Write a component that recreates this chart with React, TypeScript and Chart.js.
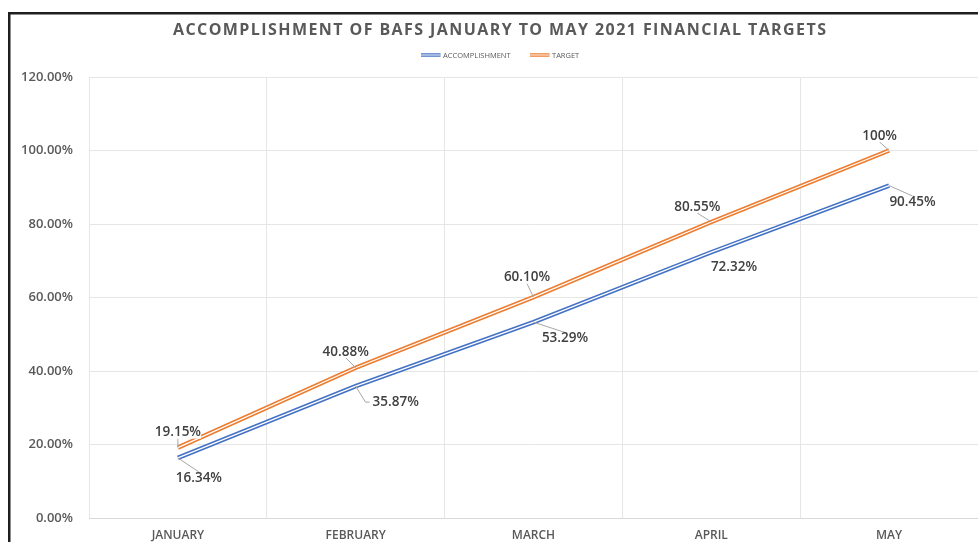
import React, { useEffect, useRef } from 'react';
import { Chart, registerables } from 'chart.js';

Chart.register(...registerables);

const categories = ['JANUARY', 'FEBRUARY', 'MARCH', 'APRIL', 'MAY'];
const accomplishment = [16.34, 35.87, 53.29, 72.32, 90.45];
const target = [19.15, 40.88, 60.1, 80.55, 100];
const accomplishmentLabels = ['16.34%', '35.87%', '53.29%', '72.32%', '90.45%'];
const targetLabels = ['19.15%', '40.88%', '60.10%', '80.55%', '100%'];
const yMin = 0;
const yMax = 120;
const yStep = 20;
const titleText = 'ACCOMPLISHMENT OF BAFS JANUARY TO MAY 2021 FINANCIAL TARGETS';
const legendNames = ['ACCOMPLISHMENT', 'TARGET'];

// label placement (label centre relative to its point, in px) and leader-line anchors
const targetLabelOffsets = [[0, -15], [-10, -16], [-6.5, -19.5], [-14, -15], [-9.5, -14.5]];
const accLabelOffsets = [[21, 20], [40, 16], [31.5, 16.3], [22.7, 15.3], [23.4, 16.4]];
const targetLeaders = ['bottom', 'bottom', 'bottom', 'bottom', 'bottom'];
const accLeaders = ['top', 'left', 'top', 'none', 'top'];

const BLUE = '#4472C4';
const ORANGE = '#ED7D31';
const TEXT = '#595959';
const LABEL = '#404040';
const FONT = "'Open Sans', 'DejaVu Sans', sans-serif";

const decorPlugin = {
  id: 'decor',
  beforeDraw(chart: any) {
    const ctx = chart.ctx;
    ctx.save();
    ctx.fillStyle = '#ffffff';
    ctx.fillRect(0, 0, chart.width, chart.height);
    ctx.fillStyle = '#1e1e1e';
    ctx.fillRect(8, 12, chart.width - 8, 2.5);
    ctx.fillRect(8, 12, 2.5, chart.height - 12);
    ctx.restore();
  },
  afterDraw(chart: any) {
    const ctx = chart.ctx;
    ctx.save();
    // title
    ctx.font = `bold 16px ${FONT}`;
    ctx.fillStyle = TEXT;
    ctx.textBaseline = 'middle';
    ctx.textAlign = 'left';
    (ctx as any).letterSpacing = '0px';
    const w0 = ctx.measureText(titleText).width;
    const targetW = 653;
    const sp = (targetW - w0) / (titleText.length - 1);
    (ctx as any).letterSpacing = `${sp}px`;
    ctx.fillText(titleText, 499.5 - targetW / 2, 30);
    (ctx as any).letterSpacing = '0px';

    // legend
    const items = [
      { name: legendNames[0], color: BLUE, x: 421 },
      { name: legendNames[1], color: ORANGE, x: 530 },
    ];
    ctx.font = `7.5px ${FONT}`;
    items.forEach((it) => {
      ctx.lineCap = 'butt';
      ctx.strokeStyle = it.color;
      ctx.lineWidth = 3.5;
      ctx.beginPath();
      ctx.moveTo(it.x, 55);
      ctx.lineTo(it.x + 19.5, 55);
      ctx.stroke();
      ctx.strokeStyle = '#ffffff';
      ctx.lineWidth = 1;
      ctx.beginPath();
      ctx.moveTo(it.x, 55);
      ctx.lineTo(it.x + 19.5, 55);
      ctx.stroke();
      ctx.fillStyle = TEXT;
      ctx.textBaseline = 'middle';
      ctx.fillText(it.name, it.x + 22, 55.5);
    });
    ctx.restore();
  },
  afterDatasetsDraw(chart: any) {
    const ctx = chart.ctx;
    ctx.save();
    ctx.font = `600 13.5px ${FONT}`;
    ctx.textAlign = 'center';
    ctx.textBaseline = 'middle';
    const groups = [
      { dsIndex: 1, labels: targetLabels, offsets: targetLabelOffsets, leaders: targetLeaders },
      { dsIndex: 0, labels: accomplishmentLabels, offsets: accLabelOffsets, leaders: accLeaders },
    ];
    groups.forEach((g) => {
      const meta = chart.getDatasetMeta(g.dsIndex);
      meta.data.forEach((pt: any, i: number) => {
        const [dx, dy] = g.offsets[i];
        const cx = pt.x + dx;
        const cy = pt.y + dy;
        const tw = ctx.measureText(g.labels[i]).width;
        const anchor = g.leaders[i];
        if (anchor !== 'none') {
          ctx.strokeStyle = '#a6a6a6';
          ctx.lineWidth = 1;
          ctx.beginPath();
          ctx.moveTo(pt.x, pt.y);
          if (anchor === 'bottom') {
            ctx.lineTo(cx, cy + 6);
          } else if (anchor === 'top') {
            ctx.lineTo(cx, cy - 6);
          } else {
            const lx = cx - tw / 2 - 3;
            ctx.lineTo(lx - 4, cy);
            ctx.lineTo(lx, cy);
          }
          ctx.stroke();
        }
        ctx.fillStyle = '#ffffff';
        ctx.fillRect(cx - tw / 2, cy - 6, tw, 12);
        ctx.fillStyle = LABEL;
        ctx.fillText(g.labels[i], cx, cy);
      });
    });
    ctx.restore();
  },
};

export default function App() {
  const ref = useRef<HTMLCanvasElement>(null);
  useEffect(() => {
    if (!ref.current) return;
    const chart = new Chart(ref.current, {
      type: 'line',
      data: {
        labels: categories,
        datasets: [
          { label: legendNames[0], data: accomplishment, borderColor: BLUE, borderWidth: 4.5, pointRadius: 0, tension: 0, order: 2 },
          { label: legendNames[1], data: target, borderColor: ORANGE, borderWidth: 4.5, pointRadius: 0, tension: 0, order: 2 },
          { label: 'inner-a', data: accomplishment, borderColor: '#ffffff', borderWidth: 1.3, pointRadius: 0, tension: 0, order: 1 },
          { label: 'inner-t', data: target, borderColor: '#ffffff', borderWidth: 1.3, pointRadius: 0, tension: 0, order: 1 },
        ],
      },
      options: {
        responsive: false,
        animation: false,
        devicePixelRatio: 1,
        layout: { padding: { top: 77, left: 0, right: 0, bottom: 0 } },
        plugins: {
          legend: { display: false },
          title: { display: false },
          tooltip: { enabled: false },
        },
        scales: {
          x: {
            offset: true,
            grid: { color: '#e6e6e6', drawTicks: false, offset: true },
            border: { color: '#d9d9d9', width: 1 },
            ticks: { color: TEXT, font: { family: FONT, size: 12, weight: '600' }, padding: 10, maxRotation: 0 },
            afterFit: (s: any) => { s.height = 24; },
          },
          y: {
            min: yMin,
            max: yMax,
            grid: { color: '#e6e6e6', drawTicks: false },
            border: { display: false },
            ticks: {
              stepSize: yStep,
              color: TEXT,
              font: { family: FONT, size: 13, weight: '600' },
              padding: 16,
              callback: (v: any) => Number(v).toFixed(2) + '%',
            },
            afterFit: (s: any) => { s.width = 89; },
          },
        },
      },
      plugins: [decorPlugin],
    });
    return () => chart.destroy();
  }, []);
  return (
    <div style={{ position: 'fixed', left: 0, top: 0, width: 978, height: 542 }}>
      <canvas ref={ref} width={978} height={542} />
    </div>
  );
}
